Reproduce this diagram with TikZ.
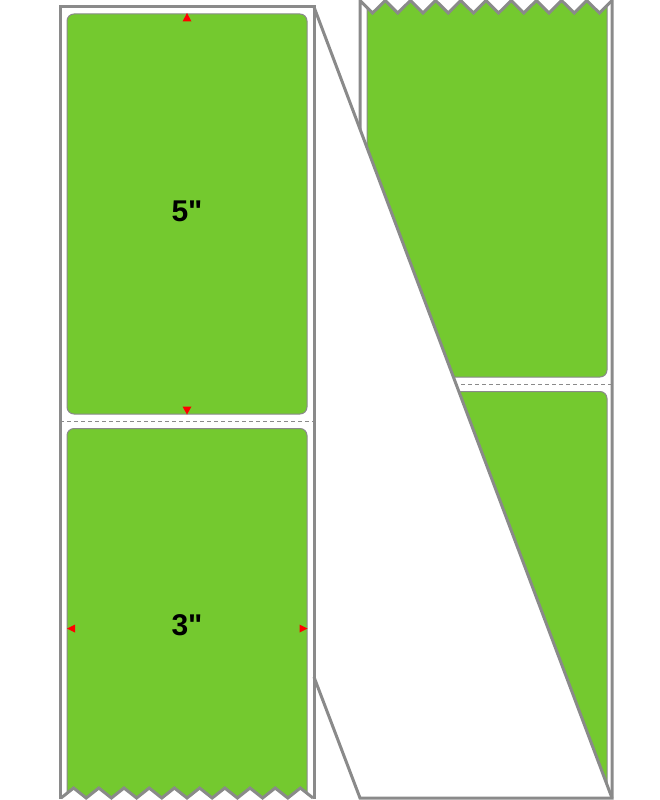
\documentclass[tikz,border=0pt]{standalone}
\usepackage{fontspec}
\newfontfamily\labfont{Liberation Sans}
\definecolor{lblgreen}{RGB}{116,201,47}
\definecolor{edgegray}{RGB}{138,138,138}
\definecolor{arrred}{RGB}{255,0,0}
\newcommand{\dq}{\XeTeXglyph\XeTeXcharglyph"22\relax}
\tikzset{
  stripline/.style={draw=edgegray, line width=3pt, line join=miter},
  labelbox/.style={fill=lblgreen, draw=edgegray, line width=1pt, rounded corners=7pt},
  perf/.style={draw=edgegray, line width=0.8pt, dash pattern=on 4pt off 3pt},
  marker/.style={fill=arrred, draw=none},
  sizetext/.style={inner sep=0pt, font=\labfont\bfseries\fontsize{30}{30}\selectfont, text=black}
}
\begin{document}
\begin{tikzpicture}[x=1pt,y=-1pt]
\useasboundingbox (0,0) rectangle (660,800);
% left strip labels
\begin{scope}
  \clip (60,0) -- (60,798) -- (61,798)
    \foreach \i in {0,...,9} { -- ({73.6+25.2*\i},788) -- ({86.2+25.2*\i},798) }
    -- (314,798) -- (314,0) -- cycle;
  \path[labelbox] (67,14) rectangle (307,414);
  \path[labelbox] (67,428.5) rectangle (307,900);
  \path[perf] (60,421) -- (314,421);
\end{scope}
% right strip labels
\begin{scope}
  \clip (360,0)
    \foreach \i in {0,...,9} { -- ({372.6+25.2*\i},13) -- ({385.2+25.2*\i},0) }
    -- (612,798) -- (360,129.1) -- cycle;
  \path[labelbox] (367,-30) rectangle (607,377);
  \path[labelbox] (367,391.5) rectangle (607,900);
  \path[perf] (440,384) -- (612,384);
\end{scope}
% left strip outline
\path[stripline] (60,799) -- (60,7) -- (314,7) -- (314,799);
\path[stripline] (61,798)
    \foreach \i in {0,...,9} { -- ({73.6+25.2*\i},788) -- ({86.2+25.2*\i},798) };
% right strip outline
\path[stripline] (360,129.1) -- (360,0.5)
    \foreach \i in {0,...,9} { -- ({372.6+25.2*\i},13) -- ({385.2+25.2*\i},0.5) };
\path[stripline] (612,0) -- (612,798) -- (360,798) -- (314,677);
\path[stripline] (314,7) -- (612,798);
% red markers
\path[marker] (187,13) -- (191.5,21.5) -- (182.5,21.5) -- cycle;
\path[marker] (187,414.5) -- (191.5,406.5) -- (182.5,406.5) -- cycle;
\path[marker] (67,628.5) -- (75,624.5) -- (75,632.5) -- cycle;
\path[marker] (307.5,628.5) -- (299.5,624.5) -- (299.5,632.5) -- cycle;
% size texts
\node[sizetext] (five) at (187,211) {5\dq};
\node[sizetext] (three) at (187,625) {3\dq};
\end{tikzpicture}
\end{document}
